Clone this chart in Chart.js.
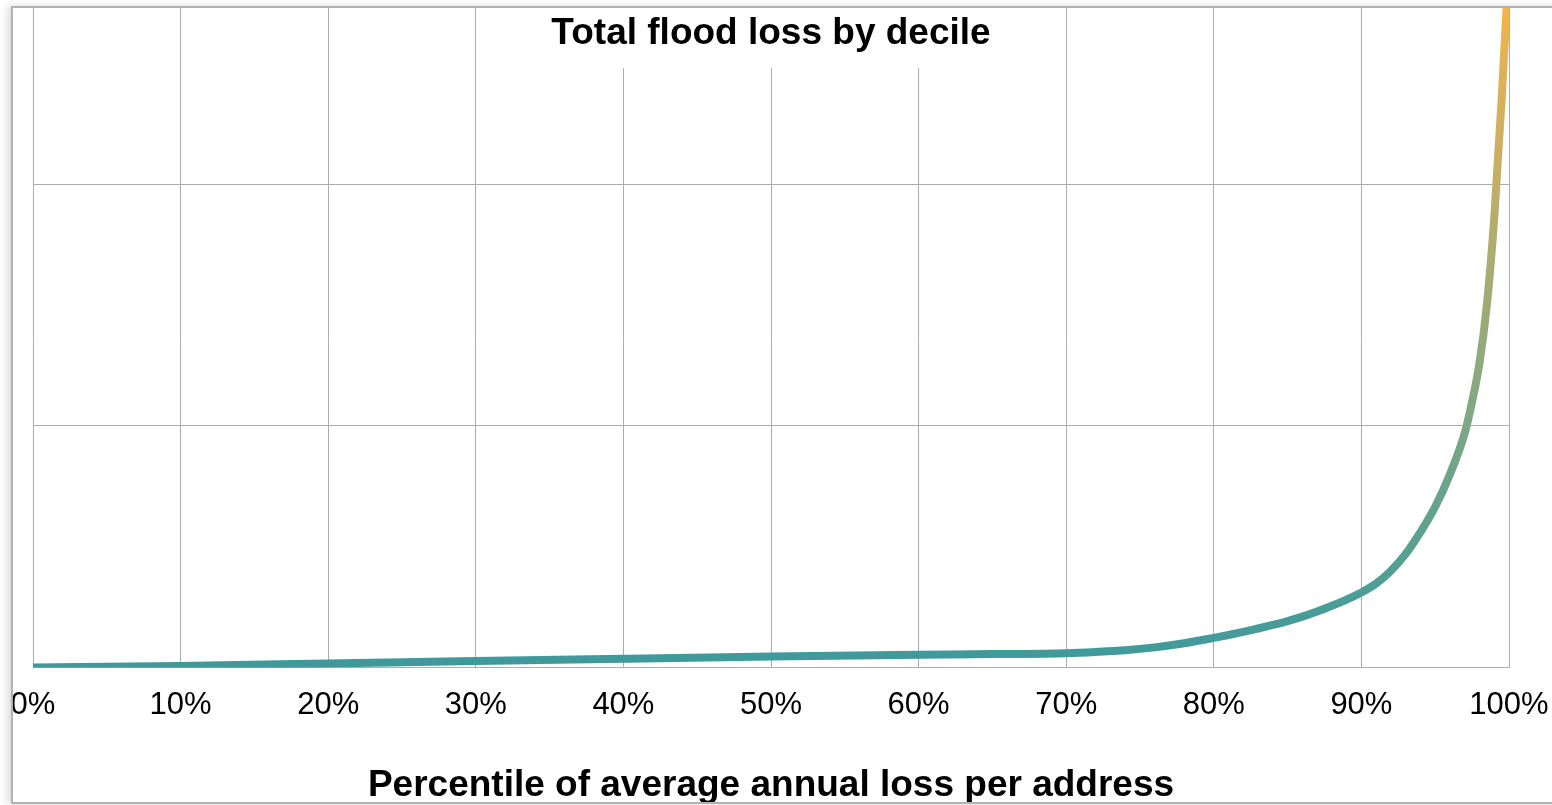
<!DOCTYPE html>
<html>
<head>
<meta charset="utf-8">
<title>Total flood loss by decile</title>
<script src="https://cdn.jsdelivr.net/npm/chart.js@4.4.1/dist/chart.umd.min.js"></script>
<style>
  html, body { margin: 0; padding: 0; background: #fff; overflow: hidden; }
  body { width: 1552px; height: 805px; position: relative; }
  .card {
    position: absolute;
    left: 11px;
    top: 6px;
    width: 1600px;
    height: 798px;
    box-sizing: border-box;
    border: 2px solid #b2b2b2;
    border-right: none;
    box-shadow: -3px 0 8px rgba(0, 0, 0, 0.16);
    overflow: hidden;
    background: #fff;
  }
  .chart-box {
    position: absolute;
    left: -40px;
    top: 0;
    width: 1600px;
    height: 800px;
  }
</style>
</head>
<body>
<div class="card">
  <div class="chart-box"><canvas id="lossChart"></canvas></div>
</div>
<script>
// Percentile of average annual loss per address (x) and cumulative loss (y, relative units)
const percentiles = [0, 10, 20, 30, 40, 50, 60, 65, 70, 72, 74, 76, 78, 80, 81, 82, 83, 84, 85, 86, 87, 88, 89,
    90, 91, 92, 93, 94, 95, 96, 97, 97.5, 98, 98.5, 99, 99.5, 100];
const lossValues = [0, 0.006, 0.016, 0.026, 0.036, 0.045, 0.052, 0.055, 0.059, 0.064, 0.071, 0.083, 0.1, 0.122,
    0.134, 0.147, 0.161, 0.176, 0.192, 0.21, 0.231, 0.255, 0.281,
    0.31, 0.347, 0.4, 0.47, 0.56, 0.665, 0.8, 0.97, 1.1, 1.26, 1.5, 1.86, 2.35, 2.92];
const xTicks = [0, 10, 20, 30, 40, 50, 60, 70, 80, 90, 100];

const chartTitle = 'Total flood loss by decile';
const axisTitle = 'Percentile of average annual loss per address';
const yMax = 2.73;

Chart.defaults.font.family = "'Liberation Sans', Arial, sans-serif";
Chart.defaults.color = '#000';

const gridColor = '#adadad';

// line colour runs from teal at the bottom to amber at the top
function lineGradient(context) {
    const chart = context.chart;
    const { ctx, chartArea, scales } = chart;
    if (!chartArea) return '#3e999b';
    const y0 = scales.y.getPixelForValue(0);
    const y1 = scales.y.getPixelForValue(yMax);
    const g = ctx.createLinearGradient(0, y0, 0, y1);
    g.addColorStop(0, '#3e999b');
    g.addColorStop(0.1, '#4a9d98');
    g.addColorStop(0.37, '#7ea785');
    g.addColorStop(0.73, '#c1ae68');
    g.addColorStop(1, '#efb54b');
    return g;
}

// heading sits on a white patch over the top of the plot
const headingPlugin = {
    id: 'heading',
    afterDraw(chart) {
        const { ctx, chartArea } = chart;
        const cx = (chartArea.left + chartArea.right) / 2;
        ctx.save();
        ctx.fillStyle = '#fff';
        ctx.fillRect(cx - 238, chartArea.top, 476, 60);
        ctx.font = "bold 37px 'Liberation Sans', Arial, sans-serif";
        ctx.fillStyle = '#000';
        ctx.textAlign = 'center';
        ctx.textBaseline = 'alphabetic';
        ctx.fillText(chartTitle, cx, chartArea.top + 36);
        ctx.restore();
    }
};

const lossCtx = document.getElementById('lossChart').getContext('2d');

const lossData = {
    datasets: [{
        label: 'Total flood loss',
        data: percentiles.map((p, i) => ({ x: p, y: lossValues[i] })),
        borderColor: lineGradient,
        borderWidth: 8,
        borderCapStyle: 'round',
        borderJoinStyle: 'round',
        cubicInterpolationMode: 'monotone',
        pointRadius: 0,
        fill: false
    }]
};

const lossConfig = {
    type: 'line',
    data: lossData,
    plugins: [headingPlugin],
    options: {
        responsive: true,
        maintainAspectRatio: false,
        animation: false,
        layout: {
            padding: { left: 60, right: 64, top: 0, bottom: 0 }
        },
        plugins: {
            legend: { display: false },
            title: { display: false },
            tooltip: { enabled: false }
        },
        scales: {
            x: {
                type: 'linear',
                min: 0,
                max: 100,
                afterBuildTicks: (scale) => {
                    scale.ticks = xTicks.map(v => ({ value: v }));
                },
                ticks: {
                    callback: (v) => v + '%',
                    font: { size: 31 },
                    color: '#000',
                    padding: 19,
                    maxRotation: 0,
                    autoSkip: false
                },
                grid: { color: gridColor, lineWidth: 1, drawTicks: false },
                border: { display: true, color: gridColor, width: 1 },
                title: {
                    display: true,
                    text: axisTitle,
                    font: { size: 37, weight: 'bold' },
                    color: '#000',
                    padding: { top: 21, bottom: 0 }
                }
            },
            y: {
                min: 0,
                max: yMax,
                ticks: { display: false, stepSize: 1, includeBounds: false },
                grid: { color: gridColor, lineWidth: 1, drawTicks: false },
                border: { display: false }
            }
        }
    }
};

const lossChart = new Chart(lossCtx, lossConfig);
</script>
</body>
</html>
